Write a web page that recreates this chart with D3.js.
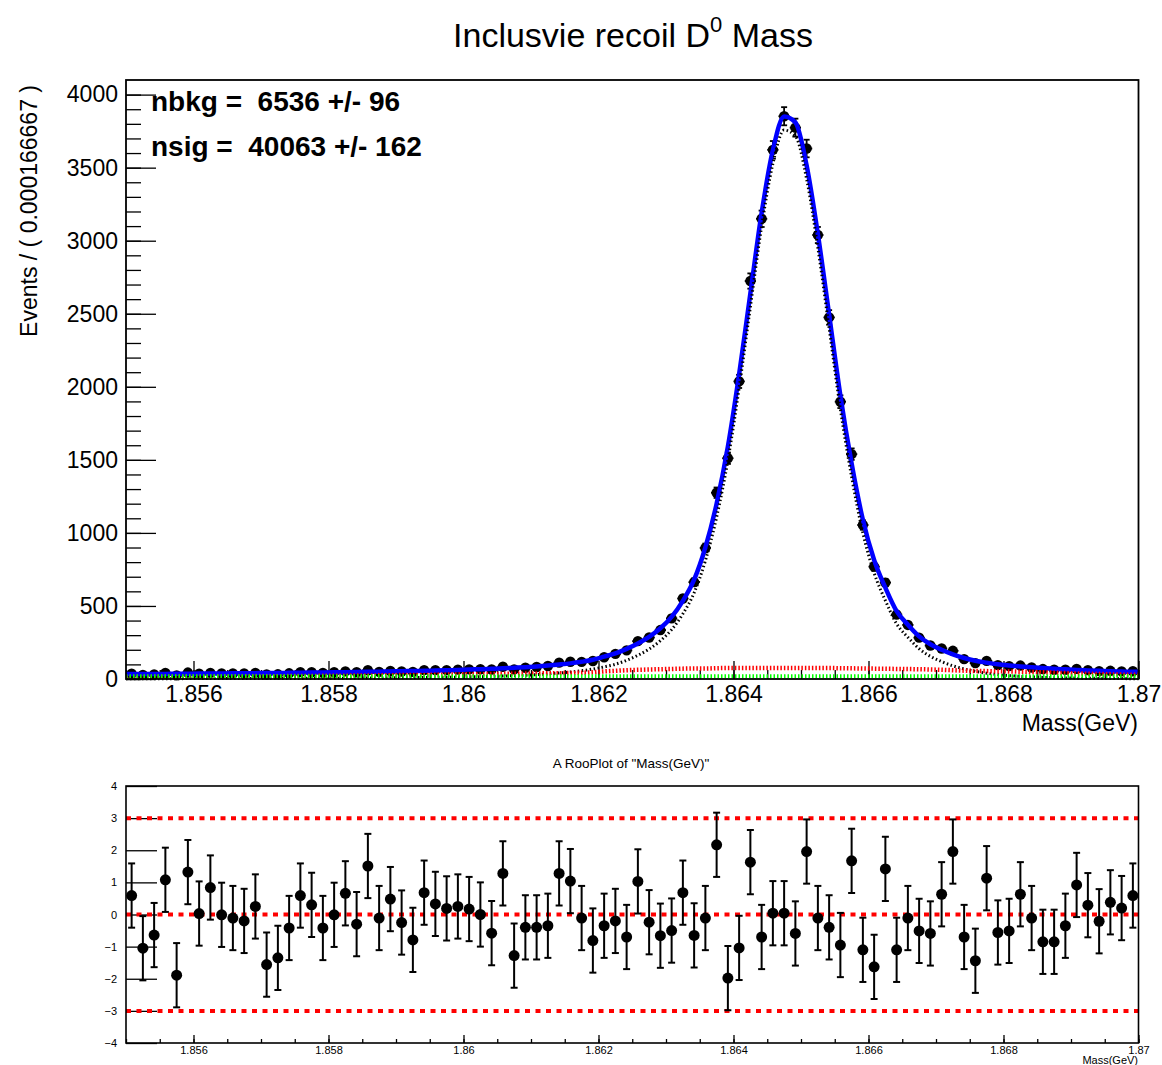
<!DOCTYPE html>
<html>
<head>
<meta charset="utf-8">
<script src="https://cdnjs.cloudflare.com/ajax/libs/d3/7.8.5/d3.min.js"></script>
<style>
  body { margin: 0; background: #fff; }
  text { font-family: "Liberation Sans", Arial, Helvetica, sans-serif; }
</style>
</head>
<body>
<div id="chart-area"></div>
<script>
// binning of the mass histogram
var massMin = 1.855;
var massMax = 1.87;
var nBins = 90;
var binWidth = (massMax - massMin) / nBins;

// events per bin (data points)
var counts = [
  37, 28, 31, 41, 25, 44, 37, 42, 38, 38,
  38, 42, 31, 32, 39, 47, 46, 42, 46, 52,
  46, 60, 49, 55, 51, 49, 61, 61, 61, 64,
  66, 67, 65, 84, 66, 77, 82, 89, 112, 118, 117,
  123, 149, 172, 196, 259, 284, 335, 415, 551,
  663, 897, 1275, 1511, 2037, 2724, 3150, 3622, 3852, 3774,
  3631, 3039, 2475, 1898, 1539, 1054, 769, 660, 441, 370,
  283, 229, 209, 193, 136, 109, 124, 95, 88, 92,
  79, 68, 63, 63, 69, 61, 54, 56, 52, 53
];

// total fit (blue) at the bin centres
var fitTotal = [
  34, 34, 35, 35, 36, 36, 37, 37, 38, 39,
  39, 40, 41, 41, 42, 43, 44, 45, 46, 47,
  48, 49, 50, 52, 53, 55, 56, 58, 60, 62,
  65, 67, 70, 73, 77, 81, 86, 92, 99, 107, 118,
  132, 153, 175, 206, 243, 288, 347, 425, 535,
  680, 900, 1200, 1590, 2085, 2640, 3190, 3620, 3850, 3810,
  3515, 3045, 2495, 1940, 1475, 1090, 815, 625, 465, 372,
  292, 238, 200, 168, 144, 125, 112, 101, 93, 86,
  80, 75, 70, 66, 62, 59, 56, 53, 51, 49
];

// signal component (black dotted)
var fitSignal = [
  2, 2, 2, 2, 2, 3, 3, 3, 3, 3,
  3, 3, 4, 4, 4, 4, 5, 5, 5, 6,
  6, 7, 7, 8, 8, 9, 10, 11, 12, 13,
  15, 16, 18, 20, 23, 26, 30, 35, 41, 48, 57,
  68, 83, 101, 128, 162, 205, 262, 338, 446,
  590, 810, 1108, 1497, 1992, 2547, 3097, 3527, 3757, 3717,
  3422, 2952, 2402, 1848, 1384, 1000, 726, 537, 378, 286,
  207, 155, 119, 90, 69, 52, 40, 30, 23, 18,
  14, 11, 9, 7, 6, 5, 4, 3, 3, 2
];

// background component (red dotted)
var fitBkgRed = [
  14, 14, 15, 15, 15, 15, 16, 16, 17, 17,
  18, 19, 19, 19, 20, 21, 21, 22, 23, 23,
  24, 24, 25, 26, 27, 28, 28, 29, 30, 31,
  32, 33, 34, 35, 36, 37, 38, 39, 40, 41, 43,
  46, 52, 56, 60, 63, 65, 67, 69, 71,
  72, 72, 74, 75, 75, 75, 75, 75, 75, 75,
  75, 75, 75, 74, 73, 72, 71, 70, 69, 68,
  67, 65, 63, 60, 57, 55, 54, 53, 52, 50,
  48, 46, 43, 41, 38, 36, 34, 32, 30, 29
];

// flat component (green dotted)
var greenMass = [1.855, 1.8625, 1.87];
var greenVals = [18, 18, 18];

// pulls shown in the lower pad
var pulls = [
  0.59, -1.05, -0.64, 1.08, -1.89, 1.32, 0.03, 0.84, -0.01, -0.11,
  -0.2, 0.25, -1.56, -1.35, -0.42, 0.59, 0.3, -0.42, -0.01, 0.66,
  -0.3, 1.51, -0.11, 0.48, -0.25, -0.79, 0.68, 0.33, 0.19, 0.25,
  0.17, 0, -0.58, 1.28, -1.28, -0.4, -0.4, -0.35, 1.28, 1.04,
  -0.11, -0.81, -0.35, -0.2, -0.7, 1.03, -0.24, -0.66, -0.5, 0.68,
  -0.65, -0.11, 2.17, -1.98, -1.04, 1.63, -0.7, 0.04, 0.04, -0.59,
  1.96, -0.11, -0.4, -0.95, 1.67, -1.1, -1.63, 1.42, -1.1, -0.11,
  -0.51, -0.59, 0.63, 1.96, -0.7, -1.44, 1.13, -0.56, -0.51, 0.63,
  -0.11, -0.85, -0.85, -0.35, 0.92, 0.29, -0.21, 0.38, 0.2, 0.59
];
var pullLines = [3, 0, -3];

// tick labels
var massTicks = [1.856, 1.858, 1.86, 1.862, 1.864, 1.866, 1.868, 1.87];
var massTickLabels = ['1.856', '1.858', '1.86', '1.862', '1.864', '1.866', '1.868', '1.87'];
var eventTicks = [0, 500, 1000, 1500, 2000, 2500, 3000, 3500, 4000];
var pullTicks = [-4, -3, -2, -1, 0, 1, 2, 3, 4];

var binCenters = d3.range(nBins).map(function (i) { return massMin + (i + 0.5) * binWidth; });

var width = 1162;
var height = 1065;

var svg = d3.select('#chart-area')
  .append('svg')
    .attr('width', width)
    .attr('height', height);

// scales
var x = d3.scaleLinear().domain([massMin, massMax]).range([126, 1138.5]);
var yTop = d3.scaleLinear().domain([0, 4100]).range([679, 80]);
var yBot = d3.scaleLinear().domain([-4, 4]).range([1043, 786]);

var massFormat = function (d) {
  var i = massTicks.indexOf(d);
  return i >= 0 ? massTickLabels[i] : '';
};
var minorMass = d3.range(0, 31).map(function (i) { return +(massMin + i * 0.0005).toFixed(4); });

function noDomain(g) { g.select('.domain').remove(); }

// ---------- upper pad ----------
svg.append('text')
    .attr('x', 633)
    .attr('y', 47)
    .attr('text-anchor', 'middle')
    .attr('font-size', '34px')
    .call(function (t) {
      t.append('tspan').text('Inclusvie recoil D');
      t.append('tspan').attr('dy', -15).attr('font-size', '22px').text('0');
      t.append('tspan').attr('dy', 15).text(' Mass');
    });

// x axis (minor then major ticks)
svg.append('g')
    .attr('transform', 'translate(0,679)')
    .call(d3.axisBottom(x).tickValues(minorMass).tickSizeInner(-9).tickSizeOuter(0).tickFormat(''))
    .call(noDomain);
svg.append('g')
    .attr('class', 'x axis')
    .attr('transform', 'translate(0,679)')
    .call(d3.axisBottom(x).tickValues(massTicks).tickSizeInner(-18).tickSizeOuter(0)
      .tickPadding(7).tickFormat(massFormat))
    .call(noDomain)
    .selectAll('text')
      .attr('font-size', '23px')
      .attr('fill', '#000');

// y axis
svg.append('g')
    .attr('transform', 'translate(126,0)')
    .call(d3.axisLeft(yTop).tickValues(d3.range(0, 4100, 100)).tickSizeInner(-15).tickSizeOuter(0).tickFormat(''))
    .call(noDomain);
svg.append('g')
    .attr('class', 'y-axis')
    .attr('transform', 'translate(126,0)')
    .call(d3.axisLeft(yTop).tickValues(eventTicks).tickSizeInner(-30).tickSizeOuter(0)
      .tickPadding(8).tickFormat(d3.format('d')))
    .call(noDomain)
    .selectAll('text')
      .attr('font-size', '23px')
      .attr('fill', '#000');

svg.selectAll('.tick line').attr('stroke', '#000').attr('stroke-width', 1.3);

// axis titles
svg.append('text')
    .attr('x', 1138)
    .attr('y', 731)
    .attr('text-anchor', 'end')
    .attr('font-size', '23px')
    .text('Mass(GeV)');

svg.append('text')
    .attr('transform', 'translate(37,85) rotate(-90)')
    .attr('text-anchor', 'end')
    .attr('font-size', '23px')
    .text('Events / ( 0.000166667 )');

// data points with errors
var bins = counts.map(function (c, i) { return { m: binCenters[i], v: c, e: Math.sqrt(c) }; });
var pts = svg.append('g').attr('stroke', '#000').attr('stroke-width', 1.8);
pts.selectAll(null).data(bins).enter().append('line')
    .attr('x1', function (d) { return x(d.m - binWidth / 2); })
    .attr('x2', function (d) { return x(d.m + binWidth / 2); })
    .attr('y1', function (d) { return yTop(d.v); })
    .attr('y2', function (d) { return yTop(d.v); });
pts.selectAll(null).data(bins).enter().append('line')
    .attr('x1', function (d) { return x(d.m); })
    .attr('x2', function (d) { return x(d.m); })
    .attr('y1', function (d) { return yTop(d.v - d.e); })
    .attr('y2', function (d) { return yTop(d.v + d.e); });
[1, -1].forEach(function (s) {
  pts.selectAll(null).data(bins).enter().append('line')
      .attr('x1', function (d) { return x(d.m) - 3; })
      .attr('x2', function (d) { return x(d.m) + 3; })
      .attr('y1', function (d) { return yTop(d.v + s * d.e); })
      .attr('y2', function (d) { return yTop(d.v + s * d.e); });
});
svg.append('g').selectAll(null).data(bins).enter().append('circle')
    .attr('cx', function (d) { return x(d.m); })
    .attr('cy', function (d) { return yTop(d.v); })
    .attr('r', 5.2)
    .attr('fill', '#000');

// curves, extended flat to the plot edges
function curvePoints(vals) {
  var p = vals.map(function (v, i) { return { m: binCenters[i], v: v }; });
  return [{ m: massMin, v: vals[0] }].concat(p, [{ m: massMax, v: vals[vals.length - 1] }]);
}
var line = d3.line()
  .x(function (d) { return x(d.m); })
  .y(function (d) { return yTop(d.v); })
  .curve(d3.curveMonotoneX);

svg.append('path')
    .datum(curvePoints(fitTotal))
    .attr('d', line)
    .attr('fill', 'none')
    .attr('stroke', '#0000ff')
    .attr('stroke-width', 4.5);

svg.append('path')
    .datum(curvePoints(fitSignal))
    .attr('d', line)
    .attr('fill', 'none')
    .attr('stroke', '#000')
    .attr('stroke-width', 3)
    .attr('stroke-dasharray', '1.5,2.5');

svg.append('path')
    .datum(curvePoints(fitBkgRed))
    .attr('d', line)
    .attr('fill', 'none')
    .attr('stroke', '#ff0000')
    .attr('stroke-width', 4.5)
    .attr('stroke-dasharray', '1.5,2');

svg.append('path')
    .datum(greenMass.map(function (m, i) { return { m: m, v: greenVals[i] }; }))
    .attr('d', line)
    .attr('fill', 'none')
    .attr('stroke', '#00ff00')
    .attr('stroke-width', 4)
    .attr('stroke-dasharray', '1.5,2');

// frame
svg.append('rect')
    .attr('x', x(massMin)).attr('y', yTop(4100))
    .attr('width', x(massMax) - x(massMin)).attr('height', yTop(0) - yTop(4100))
    .attr('fill', 'none').attr('stroke', '#000').attr('stroke-width', 1.8);

// fit results
svg.append('text')
    .attr('x', 151).attr('y', 111)
    .attr('font-size', '28px').attr('font-weight', 'bold')
    .style('white-space', 'pre')
    .text('nbkg =  6536 +/- 96');
svg.append('text')
    .attr('x', 151).attr('y', 156)
    .attr('font-size', '28px').attr('font-weight', 'bold')
    .style('white-space', 'pre')
    .text('nsig =  40063 +/- 162');

// ---------- lower pad (pulls) ----------
svg.append('text')
    .attr('x', 631).attr('y', 768)
    .attr('text-anchor', 'middle')
    .attr('font-size', '13.5px')
    .text('A RooPlot of "Mass(GeV)"');

svg.append('g')
    .attr('transform', 'translate(0,1043)')
    .call(d3.axisBottom(x).tickValues(minorMass).tickSizeInner(-4).tickSizeOuter(0).tickFormat(''))
    .call(noDomain);
svg.append('g')
    .attr('transform', 'translate(0,1043)')
    .call(d3.axisBottom(x).tickValues(massTicks).tickSizeInner(-8).tickSizeOuter(0)
      .tickPadding(3).tickFormat(massFormat))
    .call(noDomain)
    .selectAll('text')
      .attr('font-size', '11px')
      .attr('fill', '#000');

svg.append('g')
    .attr('transform', 'translate(126,0)')
    .call(d3.axisLeft(yBot).tickValues(pullTicks).tickSizeInner(-31).tickSizeOuter(0).tickPadding(9))
    .call(noDomain)
    .selectAll('text')
      .attr('font-size', '11px')
      .attr('fill', '#000');

svg.selectAll('.tick line').attr('stroke', '#000').attr('stroke-width', 1.3);

svg.append('text')
    .attr('x', 1138).attr('y', 1064)
    .attr('text-anchor', 'end')
    .attr('font-size', '11px')
    .text('Mass(GeV)');

// reference lines at 0 and +/-3
svg.append('g').selectAll(null).data(pullLines).enter().append('line')
    .attr('x1', x(massMin)).attr('x2', x(massMax))
    .attr('y1', function (d) { return yBot(d); })
    .attr('y2', function (d) { return yBot(d); })
    .attr('stroke', '#ff0000')
    .attr('stroke-width', 4)
    .attr('stroke-dasharray', '5,5.5');

var pullPts = pulls.map(function (p, i) { return { m: binCenters[i], v: p }; });
var pg = svg.append('g').attr('stroke', '#000').attr('stroke-width', 2);
pg.selectAll(null).data(pullPts).enter().append('line')
    .attr('x1', function (d) { return x(d.m); })
    .attr('x2', function (d) { return x(d.m); })
    .attr('y1', function (d) { return yBot(d.v - 1); })
    .attr('y2', function (d) { return yBot(d.v + 1); });
[1, -1].forEach(function (s) {
  pg.selectAll(null).data(pullPts).enter().append('line')
      .attr('x1', function (d) { return x(d.m) - 3.5; })
      .attr('x2', function (d) { return x(d.m) + 3.5; })
      .attr('y1', function (d) { return yBot(d.v + s); })
      .attr('y2', function (d) { return yBot(d.v + s); });
});
svg.append('g').selectAll(null).data(pullPts).enter().append('circle')
    .attr('cx', function (d) { return x(d.m); })
    .attr('cy', function (d) { return yBot(d.v); })
    .attr('r', 5.5)
    .attr('fill', '#000');

svg.append('rect')
    .attr('x', x(massMin)).attr('y', yBot(4))
    .attr('width', x(massMax) - x(massMin)).attr('height', yBot(-4) - yBot(4))
    .attr('fill', 'none').attr('stroke', '#000').attr('stroke-width', 1.6);
</script>
</body>
</html>
